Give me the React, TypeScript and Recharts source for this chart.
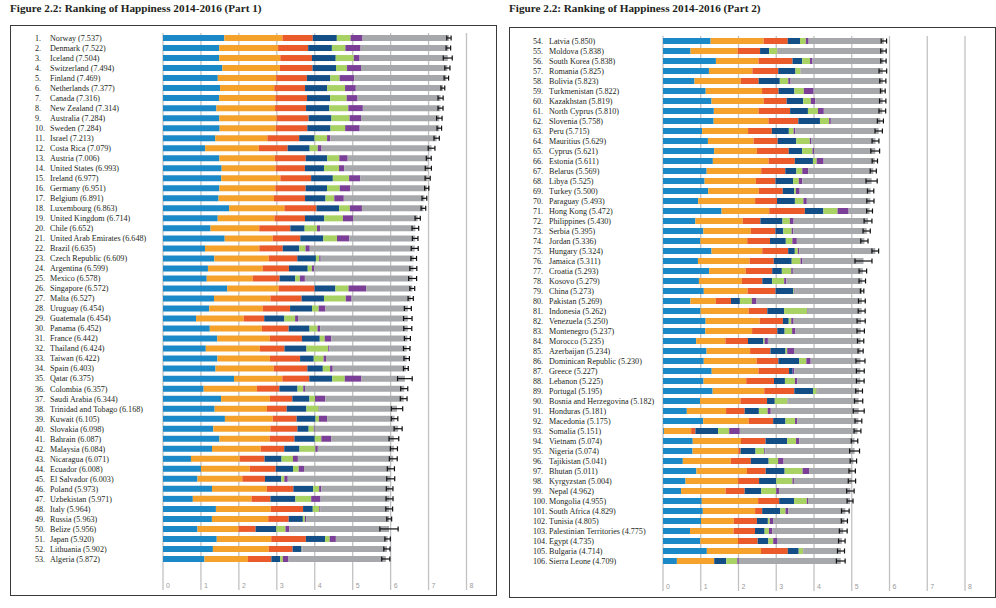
import React from 'react';
import { BarChart, Bar, XAxis, YAxis, CartesianGrid, ErrorBar } from 'recharts';

const names = [
  'Norway','Denmark','Iceland','Switzerland','Finland','Netherlands','Canada','New Zealand','Australia','Sweden',
  'Israel','Costa Rica','Austria','United States','Ireland','Germany','Belgium','Luxembourg','United Kingdom','Chile',
  'United Arab Emirates','Brazil','Czech Republic','Argentina','Mexico','Singapore','Malta','Uruguay','Guatemala','Panama',
  'France','Thailand','Taiwan','Spain','Qatar','Colombia','Saudi Arabia','Trinidad and Tobago','Kuwait','Slovakia',
  'Bahrain','Malaysia','Nicaragua','Ecuador','El Salvador','Poland','Uzbekistan','Italy','Russia','Belize',
  'Japan','Lithuania','Algeria',
  'Latvia','Moldova','South Korea','Romania','Bolivia','Turkmenistan','Kazakhstan','North Cyprus','Slovenia','Peru',
  'Mauritius','Cyprus','Estonia','Belarus','Libya','Turkey','Paraguay','Hong Kong','Philippines','Serbia',
  'Jordan','Hungary','Jamaica','Croatia','Kosovo','China','Pakistan','Indonesia','Venezuela','Montenegro',
  'Morocco','Azerbaijan','Dominican Republic','Greece','Lebanon','Portugal','Bosnia and Herzegovina','Honduras','Macedonia','Somalia',
  'Vietnam','Nigeria','Tajikistan','Bhutan','Kyrgyzstan','Nepal','Mongolia','South Africa','Tunisia','Palestinian Territories',
  'Egypt','Bulgaria','Sierra Leone',
];

const scores = [
  '7.537','7.522','7.504','7.494','7.469','7.377','7.316','7.314','7.284','7.284',
  '7.213','7.079','7.006','6.993','6.977','6.951','6.891','6.863','6.714','6.652',
  '6.648','6.635','6.609','6.599','6.578','6.572','6.527','6.454','6.454','6.452',
  '6.442','6.424','6.422','6.403','6.375','6.357','6.344','6.168','6.105','6.098',
  '6.087','6.084','6.071','6.008','6.003','5.973','5.971','5.964','5.963','5.956',
  '5.920','5.902','5.872',
  '5.850','5.838','5.838','5.825','5.823','5.822','5.819','5.810','5.758','5.715',
  '5.629','5.621','5.611','5.569','5.525','5.500','5.493','5.472','5.430','5.395',
  '5.336','5.324','5.311','5.293','5.279','5.273','5.269','5.262','5.250','5.237',
  '5.235','5.234','5.230','5.227','5.225','5.195','5.182','5.181','5.175','5.151',
  '5.074','5.074','5.041','5.011','5.004','4.962','4.955','4.829','4.805','4.775',
  '4.735','4.714','4.709',
];

const gdp = [
  1.616,1.482,1.481,1.565,1.444,1.504,1.479,1.406,1.484,1.494,
  1.375,1.110,1.487,1.546,1.536,1.488,1.464,1.742,1.442,1.253,
  1.626,1.107,1.352,1.185,1.153,1.692,1.344,1.218,0.872,1.233,
  1.430,1.128,1.434,1.384,1.871,1.071,1.531,1.361,1.632,1.326,
  1.488,1.292,0.737,1.001,0.909,1.291,0.786,1.395,1.289,0.908,
  1.417,1.315,1.092,
  1.261,0.729,1.402,1.217,0.834,1.131,1.285,1.347,1.342,1.035,
  1.190,1.356,1.321,1.156,1.102,1.198,0.933,1.552,0.858,1.069,
  0.992,1.286,0.926,1.223,0.952,1.081,0.726,0.996,1.129,1.122,
  0.878,1.154,1.080,1.290,1.075,1.315,0.982,0.631,1.065,0.023,
  0.788,0.783,0.525,0.885,0.597,0.479,1.027,1.055,1.007,0.716,
  0.990,1.162,0.368,
];

const social = [
  1.534,1.551,1.611,1.517,1.540,1.429,1.481,1.548,1.510,1.478,
  1.376,1.416,1.460,1.420,1.558,1.473,1.462,1.458,1.496,1.284,
  1.266,1.432,1.434,1.440,1.211,1.354,1.488,1.412,1.256,1.373,
  1.387,1.426,1.385,1.532,1.275,1.402,1.287,1.380,1.260,1.505,
  1.323,1.285,1.287,1.286,1.182,1.445,1.548,1.444,1.485,1.082,
  1.436,1.473,1.146,
  1.405,1.252,1.128,1.150,1.228,1.493,1.385,1.186,1.452,1.219,
  1.210,1.131,1.477,1.445,1.358,1.338,1.507,1.262,1.254,1.258,
  1.239,1.343,1.368,0.968,1.138,1.160,0.673,1.274,1.431,1.238,
  0.775,1.153,1.402,1.239,1.130,1.367,1.069,1.040,1.208,0.722,
  1.278,1.216,1.272,1.340,1.394,1.180,1.493,1.385,0.868,1.156,
  0.997,1.435,0.984,
];

const health = [
  0.797,0.793,0.834,0.858,0.809,0.811,0.835,0.817,0.844,0.831,
  0.838,0.760,0.815,0.774,0.810,0.799,0.818,0.845,0.805,0.819,
  0.726,0.617,0.754,0.695,0.710,0.949,0.822,0.719,0.540,0.706,
  0.845,0.648,0.794,0.889,0.710,0.595,0.591,0.520,0.632,0.712,
  0.654,0.619,0.653,0.685,0.596,0.700,0.498,0.853,0.540,0.451,
  0.913,0.629,0.618,
  0.638,0.590,0.900,0.685,0.473,0.438,0.606,0.834,0.791,0.630,
  0.638,0.845,0.695,0.638,0.520,0.637,0.580,0.944,0.468,0.651,
  0.604,0.687,0.641,0.702,0.541,0.741,0.402,0.493,0.617,0.667,
  0.598,0.540,0.575,0.810,0.736,0.796,0.705,0.493,0.645,0.114,
  0.652,0.057,0.530,0.496,0.554,0.505,0.558,0.187,0.613,0.565,
  0.521,0.709,0.005,
];

const freedom = [
  0.635,0.626,0.627,0.620,0.618,0.585,0.611,0.614,0.602,0.613,
  0.406,0.580,0.568,0.506,0.573,0.563,0.540,0.597,0.508,0.377,
  0.608,0.438,0.491,0.495,0.412,0.550,0.589,0.579,0.531,0.551,
  0.470,0.580,0.361,0.408,0.605,0.478,0.450,0.519,0.496,0.296,
  0.536,0.402,0.448,0.455,0.432,0.521,0.658,0.256,0.373,0.548,
  0.506,0.234,0.234,
  0.325,0.241,0.258,0.457,0.559,0.418,0.438,0.472,0.573,0.450,
  0.492,0.355,0.479,0.295,0.466,0.300,0.474,0.491,0.586,0.209,
  0.418,0.176,0.475,0.256,0.260,0.473,0.236,0.444,0.154,0.195,
  0.408,0.398,0.553,0.096,0.289,0.498,0.205,0.376,0.326,0.602,
  0.571,0.395,0.472,0.501,0.455,0.440,0.394,0.480,0.290,0.255,
  0.283,0.289,0.319,
];

const generosity = [
  0.362,0.355,0.476,0.291,0.245,0.470,0.436,0.500,0.478,0.385,
  0.330,0.214,0.317,0.393,0.428,0.336,0.231,0.283,0.492,0.327,
  0.361,0.162,0.088,0.110,0.121,0.345,0.575,0.176,0.283,0.211,
  0.130,0.573,0.259,0.190,0.330,0.150,0.147,0.325,0.090,0.136,
  0.173,0.417,0.301,0.150,0.079,0.158,0.416,0.173,0.052,0.240,
  0.121,0.010,0.070,
  0.154,0.209,0.207,0.134,0.225,0.250,0.202,0.266,0.243,0.127,
  0.360,0.272,0.099,0.155,0.152,0.047,0.225,0.374,0.194,0.220,
  0.173,0.078,0.233,0.248,0.320,0.029,0.315,0.612,0.065,0.198,
  0.032,0.045,0.187,0.000,0.264,0.096,0.329,0.233,0.254,0.292,
  0.235,0.231,0.249,0.475,0.429,0.395,0.338,0.139,0.050,0.114,
  0.128,0.113,0.293,
];

const corruption = [
  0.316,0.401,0.154,0.368,0.383,0.283,0.287,0.383,0.301,0.384,
  0.086,0.100,0.221,0.136,0.298,0.277,0.251,0.319,0.265,0.082,
  0.325,0.112,0.037,0.060,0.133,0.464,0.154,0.178,0.077,0.071,
  0.173,0.032,0.064,0.071,0.440,0.047,0.273,0.009,0.215,0.024,
  0.257,0.066,0.130,0.140,0.090,0.059,0.247,0.028,0.033,0.097,
  0.164,0.012,0.147,
  0.074,0.010,0.063,0.004,0.060,0.260,0.120,0.155,0.045,0.047,
  0.042,0.041,0.184,0.157,0.093,0.100,0.091,0.294,0.100,0.041,
  0.119,0.037,0.052,0.043,0.057,0.023,0.124,0.015,0.064,0.088,
  0.088,0.181,0.115,0.043,0.065,0.016,0.000,0.081,0.060,0.282,
  0.087,0.026,0.146,0.173,0.039,0.073,0.032,0.073,0.087,0.089,
  0.115,0.011,0.039,
];

const residual = [
  2.277,2.314,2.323,2.277,2.430,2.295,2.187,2.047,2.065,2.098,
  2.802,2.899,2.138,2.218,1.773,2.016,2.124,1.620,1.705,2.510,
  1.735,2.767,2.453,2.614,2.840,1.217,1.557,2.172,2.894,2.307,
  2.007,2.037,2.126,1.928,1.145,2.616,2.065,2.054,1.779,2.199,
  1.655,2.005,2.514,2.290,2.715,1.799,1.818,1.814,2.191,2.631,
  1.363,2.229,2.566,
  1.994,2.809,1.881,2.177,2.444,1.833,1.784,1.550,1.313,2.206,
  1.697,1.622,1.356,1.724,1.835,1.880,1.684,0.555,1.971,1.947,
  1.790,2.016,1.616,1.854,2.011,1.767,2.792,1.429,1.789,1.729,
  2.456,1.763,1.319,1.749,1.667,1.106,1.892,2.331,1.618,3.117,
  1.462,2.367,1.849,1.141,1.537,1.892,1.113,1.511,1.890,1.880,
  1.703,0.996,2.701,
];

const whiskerLow = [
  7.480,7.462,7.386,7.426,7.410,7.326,7.249,7.247,7.213,7.224,
  7.143,6.991,6.941,6.913,6.910,6.896,6.828,6.801,6.645,6.564,
  6.574,6.543,6.535,6.507,6.473,6.508,6.458,6.362,6.342,6.346,
  6.363,6.339,6.350,6.339,6.182,6.264,6.255,6.018,6.018,5.992,
  5.959,5.990,5.967,5.914,5.898,5.886,5.879,5.874,5.899,5.715,
  5.848,5.820,5.765,
  5.778,5.765,5.767,5.724,5.742,5.759,5.735,5.721,5.678,5.618,
  5.538,5.505,5.540,5.488,5.377,5.416,5.398,5.395,5.326,5.299,
  5.240,5.235,5.086,5.193,5.193,5.227,5.179,5.170,5.142,5.139,
  5.152,5.166,5.110,5.123,5.123,5.105,5.073,5.036,5.085,5.060,
  4.988,4.943,4.956,4.926,4.907,4.863,4.876,4.728,4.724,4.672,
  4.648,4.621,4.593,
];

const whiskerHigh = [
  7.594,7.582,7.622,7.562,7.528,7.427,7.384,7.380,7.356,7.344,
  7.283,7.168,7.070,7.074,7.044,7.006,6.954,6.924,6.783,6.740,
  6.722,6.727,6.683,6.690,6.683,6.636,6.596,6.546,6.566,6.558,
  6.521,6.509,6.494,6.466,6.568,6.450,6.433,6.318,6.191,6.204,
  6.215,6.178,6.175,6.102,6.108,6.061,6.063,6.054,6.027,6.197,
  5.992,5.984,5.979,
  5.922,5.911,5.909,5.926,5.904,5.885,5.903,5.899,5.838,5.812,
  5.720,5.737,5.682,5.650,5.673,5.584,5.588,5.549,5.534,5.491,
  5.432,5.413,5.536,5.393,5.365,5.319,5.359,5.354,5.358,5.335,
  5.318,5.302,5.350,5.331,5.327,5.285,5.291,5.326,5.265,5.242,
  5.160,5.205,5.126,5.096,5.101,5.061,5.034,4.930,4.886,4.878,
  4.822,4.807,4.825,
];

const xTicks = [0, 1, 2, 3, 4, 5, 6, 7, 8];

const COLORS = {
  gdp: '#1b88c8',
  social: '#f5a22c',
  health: '#ea5a2b',
  freedom: '#144e86',
  generosity: '#a8d263',
  corruption: '#7c3f98',
  residual: '#a6a8ab',
};

const SERIES: Array<keyof typeof COLORS> = ['gdp', 'social', 'health', 'freedom', 'generosity', 'corruption', 'residual'];

const allRows = names.map((n, i) => {
  const s = parseFloat(scores[i]);
  return {
    rank: `${i + 1}.`,
    label: `${n} (${scores[i]})`,
    gdp: gdp[i],
    social: social[i],
    health: health[i],
    freedom: freedom[i],
    generosity: generosity[i],
    corruption: corruption[i],
    residual: residual[i],
    err: [s - whiskerLow[i], whiskerHigh[i] - s],
  };
});

const FONT = "'Liberation Serif', 'DejaVu Serif', serif";

type PanelProps = {
  rows: typeof allRows;
  left: number;
  width: number;
  top: number;
  bottom: number;
  padBottom: number;
  rankX: number;
  nameX: number;
  xRight: number;
};

function Panel({ rows, left, width, top, bottom, padBottom, rankX, nameX, xRight }: PanelProps) {
  const rankMap: Record<string, string> = {};
  rows.forEach((r) => { rankMap[r.label] = r.rank; });
  const YTick = (props: any) => {
    const { y, payload } = props;
    return (
      <g>
        <text x={rankX} y={y} dy="0.35em" fontSize={8.1} fill="#231f20" fontFamily={FONT}>{rankMap[payload.value]}</text>
        <text x={nameX} y={y} dy="0.35em" fontSize={8.1} fill="#231f20" fontFamily={FONT}>{payload.value}</text>
      </g>
    );
  };
  const XTick = (props: any) => {
    const { x, payload } = props;
    return (
      <text x={x + 3} y={bottom - 2.5} fontSize={7} fill="#9a9a9a" fontFamily="'Liberation Sans', sans-serif">{payload.value}</text>
    );
  };
  return (
    <div style={{ position: 'absolute', left, top: 0 }}>
      <BarChart
        width={width}
        height={608}
        data={rows}
        layout="vertical"
        margin={{ top, right: width - xRight, bottom: 608 - bottom - 1, left: 0 }}
        barSize={6}
      >
        <CartesianGrid horizontal={false} stroke="#c2c2c2" strokeWidth={1.3} />
        <XAxis
          type="number"
          domain={[0, 8]}
          ticks={xTicks}
          axisLine={false}
          tickLine={false}
          height={1}
          tick={XTick}
          interval={0}
        />
        <YAxis
          type="category"
          dataKey="label"
          width={163}
          axisLine={false}
          tickLine={false}
          interval={0}
          tick={YTick}
          padding={{ top: 0, bottom: padBottom }}
        />
        {SERIES.map((k) => (
          <Bar key={k} dataKey={k} stackId="s" fill={COLORS[k]} isAnimationActive={false}>
            {k === 'residual' ? (
              <ErrorBar dataKey="err" direction="x" width={2.5} stroke="#111" strokeWidth={1.2} />
            ) : null}
          </Bar>
        ))}
      </BarChart>
    </div>
  );
}

export default function App() {
  const titleStyle: React.CSSProperties = {
    position: 'absolute',
    top: 2,
    fontFamily: FONT,
    fontWeight: 'bold',
    fontSize: 11.2,
    color: '#231f20',
    whiteSpace: 'nowrap',
  };
  const boxStyle: React.CSSProperties = {
    position: 'absolute',
    border: '1.5px solid #3a3a3a',
    boxSizing: 'border-box',
  };
  return (
    <div style={{ position: 'absolute', left: 0, top: 0, width: 996, height: 608, background: '#fff', overflow: 'hidden' }}>
      <div style={{ ...titleStyle, left: 10 }}>Figure 2.2: Ranking of Happiness 2014-2016 (Part 1)</div>
      <div style={{ ...titleStyle, left: 509 }}>Figure 2.2: Ranking of Happiness 2014-2016 (Part 2)</div>
      <div style={{ ...boxStyle, left: 10, top: 25, width: 487, height: 571 }} />
      <div style={{ ...boxStyle, left: 509, top: 27, width: 487, height: 571 }} />
      <Panel rows={allRows.slice(0, 53)} left={0} width={500} top={33} bottom={590} padBottom={26} rankX={35} nameX={50} xRight={466.5} />
      <Panel rows={allRows.slice(53)} left={500} width={496} top={36} bottom={591} padBottom={25} rankX={33} nameX={49} xRight={465} />
    </div>
  );
}
